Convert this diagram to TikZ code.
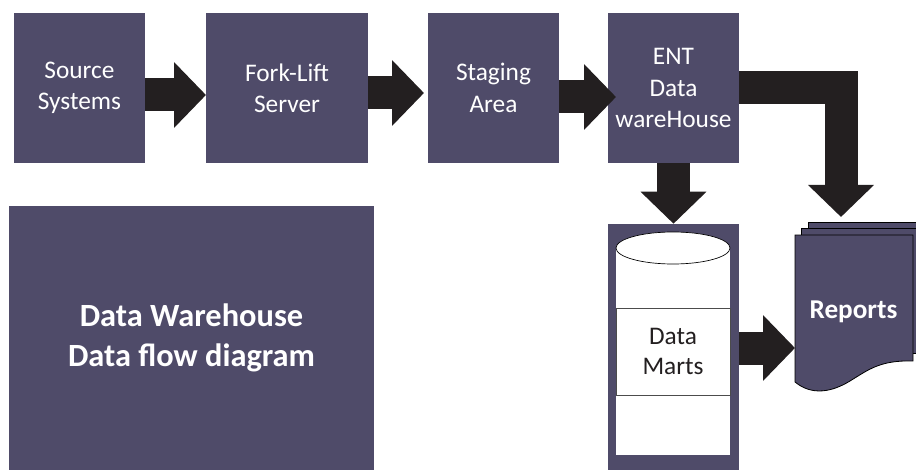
\documentclass[tikz,border=0pt]{standalone}
\usepackage{fontspec}
\setmainfont{Carlito}
\usetikzlibrary{arrows.meta,shapes.geometric}
\definecolor{boxc}{HTML}{4F4B69}
\definecolor{arrowc}{HTML}{231F20}
\tikzset{
  x=0.75pt,y=-0.75pt,
  block/.style={fill=boxc,text=white,align=center,inner sep=0pt,font=\fontsize{19}{23.5}\selectfont},
  stagebox/.style={block,minimum width=98.25pt,minimum height=112.5pt},
  bigarrow/.style={draw=arrowc,line width=24.75pt,miter limit=10,-{Triangle[length=24pt,width=48pt,fill=arrowc]}},
  whitepart/.style={draw=black,line width=0.5pt,fill=white},
  page/.style={draw=black,line width=0.6pt,fill=boxc},
}
\begin{document}
\begin{tikzpicture}
\useasboundingbox (0,0) rectangle (916,470);
\node[stagebox] (src) at (79.5,88) {Source\\Systems};
\node[stagebox,minimum width=121.5pt] (fork) at (287,88) {Fork-Lift\\Server};
\node[stagebox] (stage) at (493.5,88) {Staging\\Area};
\node[stagebox] (ent) at (673.5,88) {ENT\\Data\\wareHouse};
\node[block,minimum width=273.75pt,minimum height=198pt,font=\fontsize{24.3}{29.5}\selectfont\bfseries] (title) at (191.5,338) {Data Warehouse\\Data flow diagram};
% data mart container
\node[block,minimum width=98.25pt,minimum height=184.5pt] (dm) at (673.5,347) {};
\fill[white] (616,248) rectangle (730,455);
\node[whitepart,ellipse,minimum width=85.5pt,minimum height=24pt,inner sep=0pt] (cyl) at (673,248) {};
\node[whitepart,draw=black!70,text=arrowc,align=center,minimum width=85.5pt,minimum height=65.25pt,inner sep=0pt,font=\fontsize{19}{23}\selectfont] (marts) at (673,351.5) {Data\\Marts};
% report stack
\begin{scope}
\clip (0,0) rectangle (916,470);
\draw[page] (808,222) rectangle (930,345);
\draw[page] (801,228) rectangle (923,353);
\end{scope}
\draw[page] (795,235) -- (913,235) -- (913,361) .. controls (880,360) and (868,370) .. (850,381) .. controls (832,392) and (812,396) .. (795,382) -- cycle;
\coordinate (rep) at (795,348);
\node[text=white,inner sep=0pt,font=\fontsize{20.4}{24}\selectfont\bfseries] (reports) at (853.5,312) {Reports};
% connectors
\coordinate (forktip) at (206,95);
\coordinate (stagetip) at (424,93);
\coordinate (enttip) at (616,97);
\draw[bigarrow] (src.east |- forktip) -- (forktip);
\draw[bigarrow] (fork.east |- stagetip) -- (stagetip);
\draw[bigarrow] (stage.east |- enttip) -- (enttip);
\draw[bigarrow] (ent.south) -- (dm.north);
\coordinate (elbow) at (841,88);
\coordinate (reptip) at (841,217);
\draw[bigarrow] (ent.east) -- (elbow) -- (reptip);
\draw[bigarrow] (dm.east |- rep) -- (rep);
\end{tikzpicture}
\end{document}
